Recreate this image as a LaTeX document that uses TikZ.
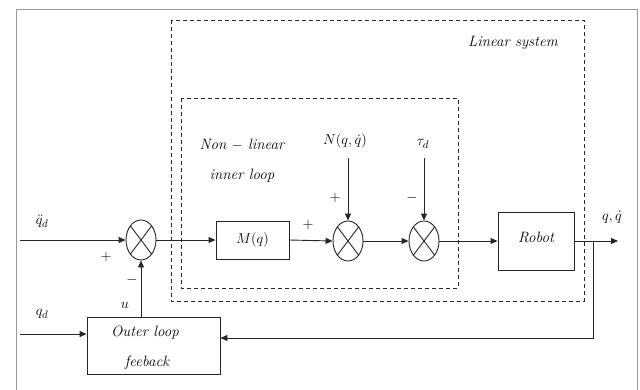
\documentclass[tikz,border=0pt]{standalone}
\usetikzlibrary{arrows.meta,shapes.geometric}
\begin{document}
\begin{tikzpicture}[x=1pt,y=-1pt,
  line/.style={draw=black!85,line width=0.9pt},
  arr/.style={line,-{Triangle[length=7pt,width=6pt]}},
  blockbox/.style={draw=black!85,line width=0.9pt,rectangle,inner sep=0pt},
  sumnode/.style={draw=black!85,line width=0.9pt,ellipse,minimum width=30pt,minimum height=40pt,inner sep=0pt},
  dashbox/.style={draw=black!85,line width=0.8pt,dash pattern=on 4pt off 3pt},
  lab/.style={inner sep=0pt,font=\fontsize{15}{17}\selectfont\itshape}
]
\useasboundingbox (0,0) rectangle (640,389);
% frame
\draw[gray!80,line width=1pt] (16,395) -- (16,9) -- (637,9) -- (637,395);
% dashed boxes
\draw[dashbox] (171,20) rectangle (584,301);
\draw[dashbox] (181,98) rectangle (458,288);
% blocks
\node[sumnode] (s1) at (141,240) {};
\node[blockbox,minimum width=73pt,minimum height=38pt] (M) at (252.5,240) {};
\node[lab] (Mlab) at (M.center) {$M(q)$};
\node[sumnode] (s2) at (348,241) {};
\node[sumnode] (s3) at (424,241) {};
\node[blockbox,minimum width=76pt,minimum height=58pt] (R) at (536,241) {};
\node[lab] (Rlab) at (536,237) {Robot};
\node[blockbox,minimum width=133pt,minimum height=57pt] (O) at (153.5,345.5) {};
\node[lab] (Olab1) at (145,333) {Outer loop};
\node[lab] (Olab2) at (147,363) {feeback};
% crosses
\foreach \s in {s1,s2,s3}{
  \draw[line] (\s.north east) -- (\s.south west);
  \draw[line] (\s.north west) -- (\s.south east);
}
% coordinates
\coordinate (qddin) at (20,240);
\coordinate (qdin) at (20,334);
\coordinate (out) at (618,241);
\coordinate (br) at (593,241);
\coordinate (fb) at (593,338);
\coordinate (Nin) at (348,158);
\coordinate (Tin) at (424,158);
% connectors
\draw[arr] (qddin) -- (s1.west);
\draw[arr] (s1.east) -- (M.west);
\draw[arr] (M.east) -- (s2.west);
\draw[arr] (s2.east) -- (s3.west);
\draw[arr] (s3.east) -- (R.west);
\draw[arr] (R.east) -- (out);
\draw[arr] (br) -- (fb) -- (O.east |- fb);
\draw[arr] (qdin) -- (O.west |- qdin);
\draw[arr] (s1.south |- O.north) -- (s1.south);
\draw[arr] (Nin) -- (s2.north);
\draw[arr] (Tin) -- (s3.north);
% labels
\node[lab] (l1) at (42,221) {$\ddot q_d$};
\node[lab] (l2) at (42,314) {$q_d$};
\node[lab] (l3) at (106,257) {$+$};
\node[lab] (l4) at (132,280) {$-$};
\node[lab] (l5) at (125,305) {$u$};
\node[lab] (l6) at (308,225) {$+$};
\node[lab] (l7) at (335,198) {$+$};
\node[lab] (l8) at (412,198) {$-$};
\node[lab] (l9) at (345,141) {$N(q,\dot q)$};
\node[lab] (l10) at (423,144) {$\tau_d$};
\node[lab] (l11) at (242,145) {Non $-$ linear};
\node[lab] (l12) at (242,176) {inner loop};
\node[lab] (l13) at (513,43) {Linear system};
\node[lab] (l14) at (612,217) {$q,\dot q$};
\end{tikzpicture}
\end{document}
